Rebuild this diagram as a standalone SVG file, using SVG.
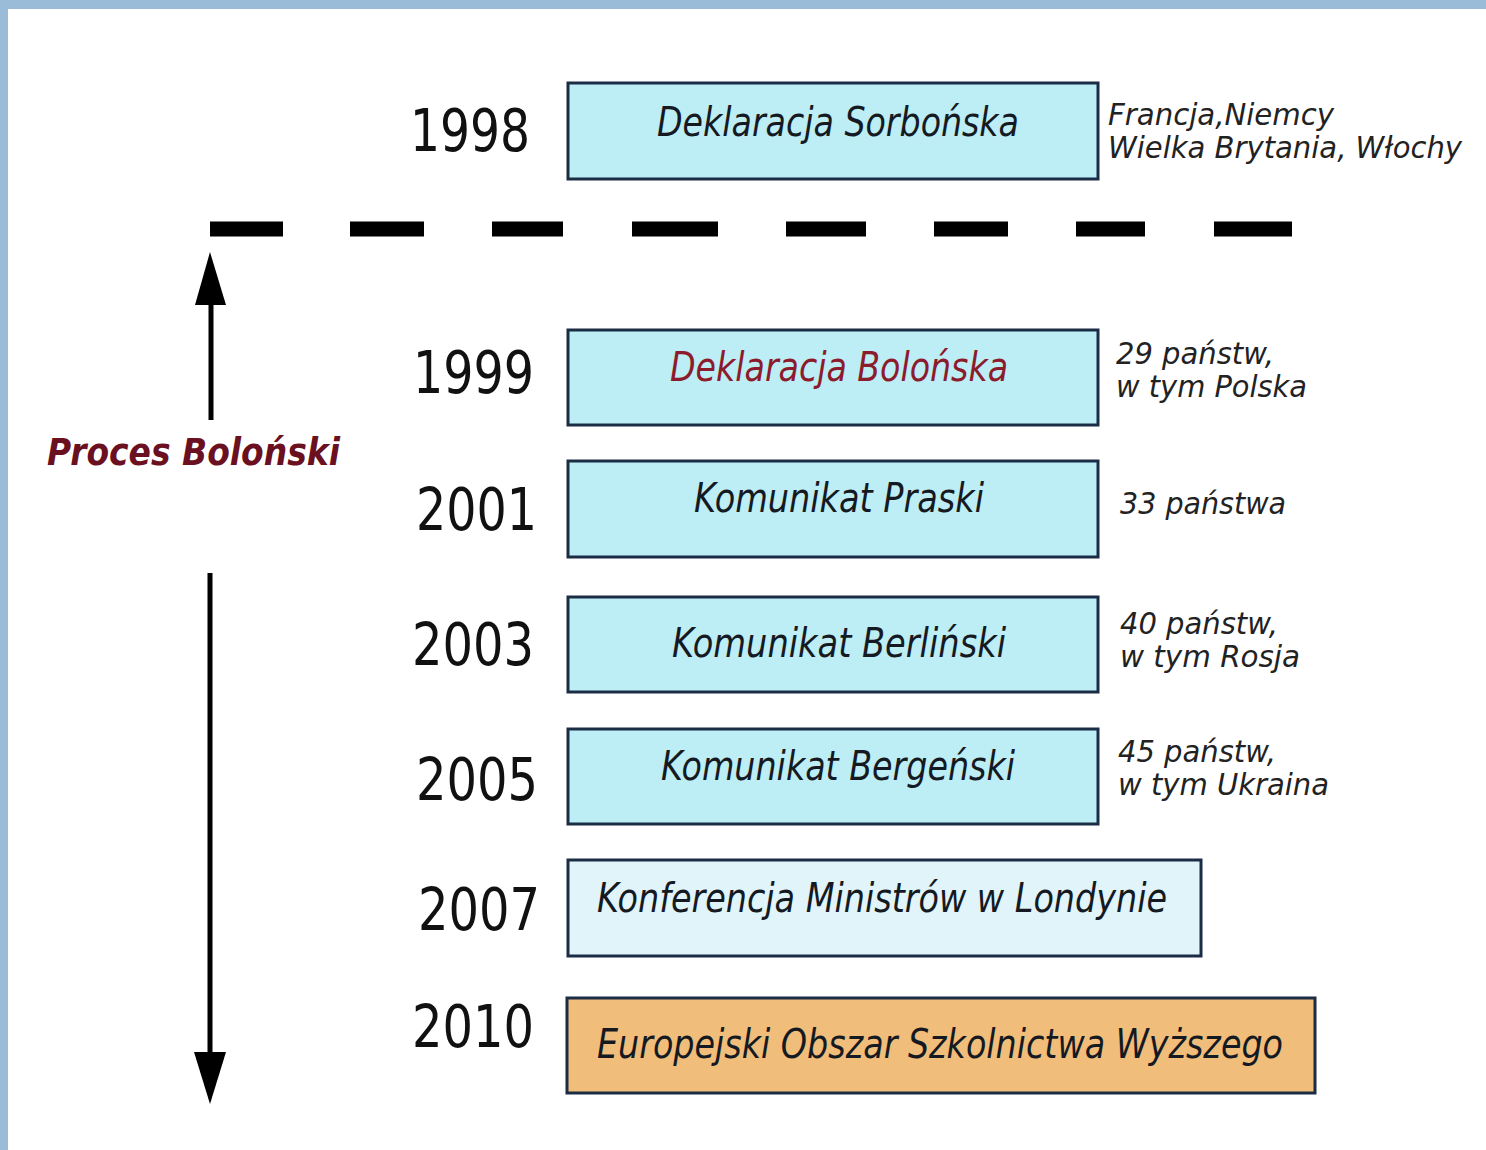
<svg xmlns="http://www.w3.org/2000/svg" width="1486" height="1150" viewBox="0 0 1486 1150">
<defs>
<style>
.box{stroke:#1b2d44;stroke-width:3}
.cyan{fill:#bdedf5}
.pale{fill:#e0f4f9}
.orange{fill:#f1bd7a}
.yr{font-family:"DejaVu Sans","Verdana",sans-serif;font-stretch:condensed;font-size:58px;fill:#111}
.bt{font-family:"DejaVu Sans","Verdana",sans-serif;font-stretch:condensed;font-style:italic;font-size:40px;fill:#151a22;text-anchor:middle}
.st{font-family:"DejaVu Sans","Verdana",sans-serif;font-stretch:condensed;font-style:italic;font-size:30px;fill:#222}
.pb{font-family:"DejaVu Sans","Verdana",sans-serif;font-weight:bold;font-style:italic;font-size:37px;fill:#6a1020}
</style>
</defs>
<rect x="0" y="0" width="1486" height="1150" fill="#9bbcd9"/>
<rect x="8" y="9" width="1478" height="1141" fill="#ffffff"/>

<g id="connectors">
<path d="M210 229H283M350 229H424M492 229H563M632 229H718M786 229H866M934 229H1008M1076 229H1145M1214 229H1292" stroke="#000" stroke-width="15" fill="none"/>
<line x1="211" y1="420" x2="211" y2="300" stroke="#000" stroke-width="5"/>
<polygon points="210,252 195,305 226,305" fill="#000"/>
<line x1="210" y1="573" x2="210" y2="1055" stroke="#000" stroke-width="5"/>
<polygon points="194,1052 226,1052 210,1104" fill="#000"/>
</g>

<g id="label-proces">
<text class="pb" x="47" y="465" textLength="293" lengthAdjust="spacingAndGlyphs">Proces Boloński</text>
</g>

<g id="node-1998">
<text class="yr" x="410" y="151" textLength="120" lengthAdjust="spacingAndGlyphs">1998</text>
<rect class="box cyan" x="568" y="83" width="530" height="96"/>
<text class="bt" x="838" y="136" textLength="362" lengthAdjust="spacingAndGlyphs">Deklaracja Sorbońska</text>
<text class="st" x="1108" y="125" textLength="226" lengthAdjust="spacingAndGlyphs">Francja,Niemcy</text>
<text class="st" x="1108" y="158" textLength="354" lengthAdjust="spacingAndGlyphs">Wielka Brytania, Włochy</text>
</g>

<g id="node-1999">
<text class="yr" x="413" y="393" textLength="121" lengthAdjust="spacingAndGlyphs">1999</text>
<rect class="box cyan" x="568" y="330" width="530" height="95"/>
<text class="bt" x="839" y="381" textLength="338" lengthAdjust="spacingAndGlyphs" style="fill:#8c1b2b">Deklaracja Bolońska</text>
<text class="st" x="1116" y="364" textLength="158" lengthAdjust="spacingAndGlyphs">29 państw,</text>
<text class="st" x="1116" y="397" textLength="191" lengthAdjust="spacingAndGlyphs">w tym Polska</text>
</g>

<g id="node-2001">
<text class="yr" x="416" y="530" textLength="121" lengthAdjust="spacingAndGlyphs">2001</text>
<rect class="box cyan" x="568" y="461" width="530" height="96"/>
<text class="bt" x="839" y="512" textLength="290" lengthAdjust="spacingAndGlyphs">Komunikat Praski</text>
<text class="st" x="1120" y="514" textLength="166" lengthAdjust="spacingAndGlyphs">33 państwa</text>
</g>

<g id="node-2003">
<text class="yr" x="412" y="665" textLength="122" lengthAdjust="spacingAndGlyphs">2003</text>
<rect class="box cyan" x="568" y="597" width="530" height="95"/>
<text class="bt" x="839" y="657" textLength="334" lengthAdjust="spacingAndGlyphs">Komunikat Berliński</text>
<text class="st" x="1120" y="634" textLength="158" lengthAdjust="spacingAndGlyphs">40 państw,</text>
<text class="st" x="1120" y="667" textLength="180" lengthAdjust="spacingAndGlyphs">w tym Rosja</text>
</g>

<g id="node-2005">
<text class="yr" x="416" y="800" textLength="122" lengthAdjust="spacingAndGlyphs">2005</text>
<rect class="box cyan" x="568" y="729" width="530" height="95"/>
<text class="bt" x="838" y="780" textLength="354" lengthAdjust="spacingAndGlyphs">Komunikat Bergeński</text>
<text class="st" x="1118" y="762" textLength="158" lengthAdjust="spacingAndGlyphs">45 państw,</text>
<text class="st" x="1118" y="795" textLength="211" lengthAdjust="spacingAndGlyphs">w tym Ukraina</text>
</g>

<g id="node-2007">
<text class="yr" x="418" y="930" textLength="122" lengthAdjust="spacingAndGlyphs">2007</text>
<rect class="box pale" x="568" y="860" width="633" height="96"/>
<text class="bt" x="882" y="912" textLength="570" lengthAdjust="spacingAndGlyphs">Konferencja Ministrów w Londynie</text>
</g>

<g id="node-2010">
<text class="yr" x="412" y="1047" textLength="122" lengthAdjust="spacingAndGlyphs">2010</text>
<rect class="box orange" x="567" y="998" width="748" height="95"/>
<text class="bt" x="940" y="1058" textLength="686" lengthAdjust="spacingAndGlyphs">Europejski Obszar Szkolnictwa Wyższego</text>
</g>
</svg>
